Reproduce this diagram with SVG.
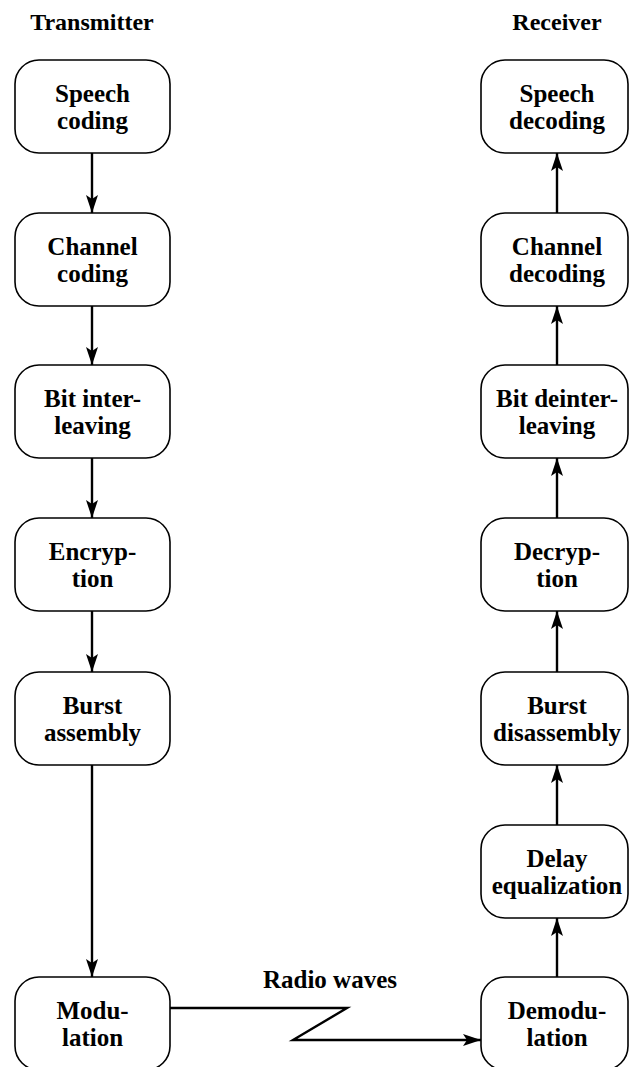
<svg xmlns="http://www.w3.org/2000/svg" width="629" height="1067" viewBox="0 0 629 1067">
<style>
.box{fill:#fff;stroke:#000;stroke-width:1.6}
.t{font-family:"Liberation Serif","Times New Roman",serif;font-weight:bold;font-size:25px;fill:#000;text-anchor:middle}
.h{font-family:"Liberation Serif","Times New Roman",serif;font-weight:bold;font-size:24px;fill:#000;text-anchor:middle}
.c{fill:none;stroke:#000;stroke-width:2.4}
</style>
<defs>
<marker id="ah" viewBox="0 0 18 12" refX="18" refY="6" markerWidth="18" markerHeight="12" orient="auto" markerUnits="userSpaceOnUse">
<path d="M0,0 L18,6 L0,12 L4,6 z" fill="#000"/>
</marker>
</defs>
<rect width="629" height="1067" fill="#fff"/>
<text class="h" x="92" y="30">Transmitter</text>
<text class="h" x="557" y="30">Receiver</text>

<g id="connectors">
<line class="c" x1="92" y1="153" x2="92" y2="213" marker-end="url(#ah)"/>
<line class="c" x1="92" y1="306" x2="92" y2="365" marker-end="url(#ah)"/>
<line class="c" x1="92" y1="458" x2="92" y2="518" marker-end="url(#ah)"/>
<line class="c" x1="92" y1="611" x2="92" y2="672" marker-end="url(#ah)"/>
<line class="c" x1="92" y1="765" x2="92" y2="977" marker-end="url(#ah)"/>
<line class="c" x1="557" y1="213" x2="557" y2="153" marker-end="url(#ah)"/>
<line class="c" x1="557" y1="365" x2="557" y2="306" marker-end="url(#ah)"/>
<line class="c" x1="557" y1="518" x2="557" y2="458" marker-end="url(#ah)"/>
<line class="c" x1="557" y1="672" x2="557" y2="611" marker-end="url(#ah)"/>
<line class="c" x1="557" y1="825" x2="557" y2="765" marker-end="url(#ah)"/>
<line class="c" x1="557" y1="977" x2="557" y2="918" marker-end="url(#ah)"/>
<polyline class="c" points="170,1008 347,1008 293,1040 481,1040" marker-end="url(#ah)"/>
<text class="t" x="330" y="988">Radio waves</text>
</g>

<g id="speech-coding"><rect class="box" x="15" y="60" width="155" height="93" rx="24"/><text class="t" x="92.5" y="102">Speech</text><text class="t" x="92.5" y="129">coding</text></g>
<g id="channel-coding"><rect class="box" x="15" y="213" width="155" height="93" rx="24"/><text class="t" x="92.5" y="255">Channel</text><text class="t" x="92.5" y="282">coding</text></g>
<g id="bit-interleaving"><rect class="box" x="15" y="365" width="155" height="93" rx="24"/><text class="t" x="92.5" y="407">Bit inter-</text><text class="t" x="92.5" y="434">leaving</text></g>
<g id="encryption"><rect class="box" x="15" y="518" width="155" height="93" rx="24"/><text class="t" x="92.5" y="560">Encryp-</text><text class="t" x="92.5" y="587">tion</text></g>
<g id="burst-assembly"><rect class="box" x="15" y="672" width="155" height="93" rx="24"/><text class="t" x="92.5" y="714">Burst</text><text class="t" x="92.5" y="741">assembly</text></g>
<g id="modulation"><rect class="box" x="15" y="977" width="155" height="93" rx="24"/><text class="t" x="92.5" y="1019">Modu-</text><text class="t" x="92.5" y="1046">lation</text></g>

<g id="speech-decoding"><rect class="box" x="481" y="60" width="147" height="93" rx="24"/><text class="t" x="557" y="102">Speech</text><text class="t" x="557" y="129">decoding</text></g>
<g id="channel-decoding"><rect class="box" x="481" y="213" width="147" height="93" rx="24"/><text class="t" x="557" y="255">Channel</text><text class="t" x="557" y="282">decoding</text></g>
<g id="bit-deinterleaving"><rect class="box" x="481" y="365" width="147" height="93" rx="24"/><text class="t" x="557" y="407">Bit deinter-</text><text class="t" x="557" y="434">leaving</text></g>
<g id="decryption"><rect class="box" x="481" y="518" width="147" height="93" rx="24"/><text class="t" x="557" y="560">Decryp-</text><text class="t" x="557" y="587">tion</text></g>
<g id="burst-disassembly"><rect class="box" x="481" y="672" width="147" height="93" rx="24"/><text class="t" x="557" y="714">Burst</text><text class="t" x="557" y="741">disassembly</text></g>
<g id="delay-equalization"><rect class="box" x="481" y="825" width="147" height="93" rx="24"/><text class="t" x="557" y="867">Delay</text><text class="t" x="557" y="894">equalization</text></g>
<g id="demodulation"><rect class="box" x="481" y="977" width="147" height="93" rx="24"/><text class="t" x="557" y="1019">Demodu-</text><text class="t" x="557" y="1046">lation</text></g>
</svg>
